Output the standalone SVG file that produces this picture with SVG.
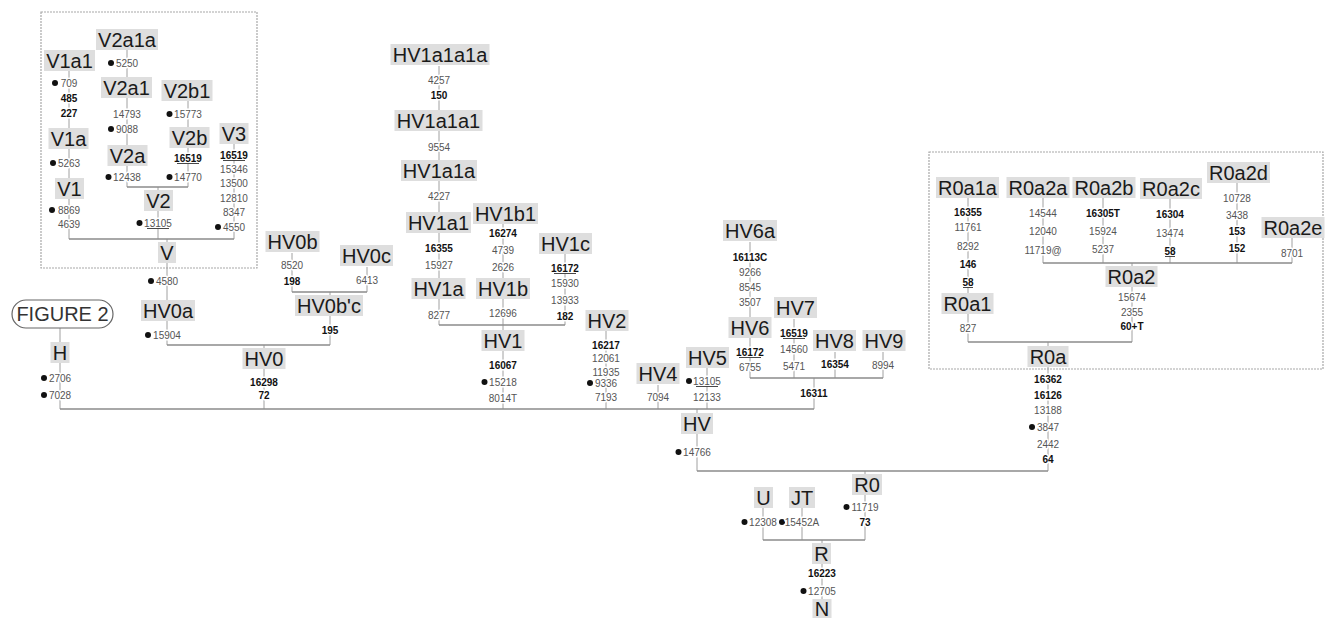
<svg xmlns="http://www.w3.org/2000/svg" width="1327" height="618" viewBox="0 0 1327 618">
<style>
.lb{fill:#dedede}
.lt{font-family:"Liberation Sans",Arial,sans-serif;font-size:20px;fill:#1a1a1a;text-anchor:middle}
.n{font-family:"Liberation Sans Narrow","Liberation Sans",Arial,sans-serif;font-size:10px;fill:#555;text-anchor:middle;stroke:#fff;stroke-width:3;paint-order:stroke;stroke-linejoin:round}
.b{font-weight:bold;fill:#111}
.d{fill:#111}
.ul{stroke:#333;stroke-width:0.9}
.v{stroke:#a0a0a0;stroke-width:1;fill:none}
.h{stroke:#8c8c8c;stroke-width:1.3;fill:none}
.box{fill:none;stroke:#a8a8a8;stroke-width:1.2;stroke-dasharray:2 1}
</style>
<rect width="1327" height="618" fill="#fff"/>
<rect class="box" x="41" y="12" width="216" height="256"/>
<rect class="box" x="929" y="152" width="394" height="217"/>
<g id="connectors">
<path class="v" d="M127 48V187M188 100V187M158 187V239M69 70V239M234 143V239M167 239V345M292 253V292M367 267V292M330 292V345M264 345V409M60 328V409M439 66V325M503 223V409M565 254V325M606 331V409M658 385V409M707 367V409M750 242V378M794 319V378M835 352V378M883 352V378M814 378V409M697 409V471M865 471V540M763 508V540M802 508V540M822 540V618M968 198V342M1043 198V263M1103 198V263M1170 198V263M1237 183V263M1292 238V263M1132 263V342M1048 342V471"/>
<path class="h" d="M127 187H188M69 239H234M292 292H367M167 345H330M60 409H814M439 325H565M750 378H883M697 471H1048M763 540H865M1043 263H1292M968 342H1132"/>
</g>
<g id="FIGURE2"><rect x="12" y="300" width="101" height="28" rx="14" fill="#fff" stroke="#666" stroke-width="1.2"/><text x="62.5" y="321" font-family="'Liberation Sans',Arial,sans-serif" font-size="20" fill="#333" text-anchor="middle">FIGURE 2</text></g>

<g id="V2a1a"><rect class="lb" x="96" y="29" width="62" height="21"/><text class="lt" x="127" y="46.5">V2a1a</text><circle class="d" cx="111" cy="63" r="3"/><text class="n" x="127" y="66.5">5250</text></g>
<g id="V2a1"><rect class="lb" x="101" y="77" width="51" height="21"/><text class="lt" x="126.5" y="94.5">V2a1</text><text class="n" x="127" y="117.5">14793</text><circle class="d" cx="111" cy="129" r="3"/><text class="n" x="127" y="132.5">9088</text></g>
<g id="V2a"><rect class="lb" x="107.5" y="145" width="40" height="21"/><text class="lt" x="127.5" y="162.5">V2a</text><circle class="d" cx="108.5" cy="177" r="3"/><text class="n" x="127" y="180.5">12438</text></g>
<g id="V2b1"><rect class="lb" x="161.5" y="80" width="51" height="21"/><text class="lt" x="187" y="97.5">V2b1</text><circle class="d" cx="169.5" cy="114" r="3"/><text class="n" x="188" y="117.5">15773</text></g>
<g id="V2b"><rect class="lb" x="169.5" y="127" width="40" height="21"/><text class="lt" x="189.5" y="144.5">V2b</text><text class="n b" x="188" y="161.5">16519</text><line class="ul" x1="177" y1="163.5" x2="199" y2="163.5"/><circle class="d" cx="169.5" cy="177" r="3"/><text class="n" x="188" y="180.5">14770</text></g>
<g id="V2"><rect class="lb" x="144" y="190" width="29" height="21"/><text class="lt" x="158.5" y="207.5">V2</text><circle class="d" cx="139.5" cy="223" r="3"/><text class="n" x="158" y="226.5">13105</text><line class="ul" x1="147" y1="228.5" x2="169" y2="228.5"/></g>
<g id="V1a1"><rect class="lb" x="44" y="50" width="51" height="21"/><text class="lt" x="69.5" y="67.5">V1a1</text><circle class="d" cx="55" cy="83" r="3"/><text class="n" x="69" y="86.5">709</text><text class="n b" x="69" y="101.5">485</text><text class="n b" x="69" y="116.5">227</text></g>
<g id="V1a"><rect class="lb" x="48.5" y="128" width="40" height="21"/><text class="lt" x="68.5" y="145.5">V1a</text><circle class="d" cx="53" cy="163" r="3"/><text class="n" x="69" y="166.5">5263</text></g>
<g id="V1"><rect class="lb" x="55" y="178" width="29" height="21"/><text class="lt" x="69.5" y="195.5">V1</text><circle class="d" cx="52" cy="210" r="3"/><text class="n" x="69" y="213.5">8869</text><text class="n" x="69" y="227.5">4639</text></g>
<g id="V3"><rect class="lb" x="219.5" y="123" width="29" height="21"/><text class="lt" x="234" y="140.5">V3</text><text class="n b" x="234" y="158.5">16519</text><line class="ul" x1="223" y1="160.5" x2="245" y2="160.5"/><text class="n" x="234" y="172.5">15346</text><text class="n" x="234" y="186.5">13500</text><text class="n" x="234" y="201.5">12810</text><text class="n" x="234" y="215.5">8347</text><circle class="d" cx="218" cy="227" r="3"/><text class="n" x="234" y="230.5">4550</text></g>
<g id="V"><rect class="lb" x="158" y="242" width="18" height="21"/><text class="lt" x="167" y="259.5">V</text><circle class="d" cx="151" cy="281" r="3"/><text class="n" x="167" y="284.5">4580</text></g>
<g id="HV0a"><rect class="lb" x="141" y="300" width="54" height="21"/><text class="lt" x="168" y="317.5">HV0a</text><circle class="d" cx="148" cy="335" r="3"/><text class="n" x="167" y="338.5">15904</text></g>
<g id="HV0b"><rect class="lb" x="265.5" y="231" width="54" height="21"/><text class="lt" x="292.5" y="248.5">HV0b</text><text class="n" x="292" y="268.5">8520</text><text class="n b" x="292" y="284.5">198</text></g>
<g id="HV0c"><rect class="lb" x="340" y="245" width="53" height="21"/><text class="lt" x="366.5" y="262.5">HV0c</text><text class="n" x="367" y="283.5">6413</text></g>
<g id="HV0b_c"><rect class="lb" x="295" y="295" width="68" height="21"/><text class="lt" x="329" y="312.5">HV0b'c</text><text class="n b" x="330" y="333.5">195</text></g>
<g id="HV0"><rect class="lb" x="242.5" y="348" width="43" height="21"/><text class="lt" x="264" y="365.5">HV0</text><text class="n b" x="264" y="385.5">16298</text><text class="n b" x="264" y="398.5">72</text></g>
<g id="H"><rect class="lb" x="50.5" y="342" width="19" height="21"/><text class="lt" x="60" y="359.5">H</text><circle class="d" cx="44" cy="378" r="3"/><text class="n" x="60" y="381.5">2706</text><circle class="d" cx="44" cy="395" r="3"/><text class="n" x="60" y="398.5">7028</text></g>

<g id="HV1a1a1a"><rect class="lb" x="390.5" y="44" width="99" height="21"/><text class="lt" x="440" y="61.5">HV1a1a1a</text><text class="n" x="439" y="83.5">4257</text><text class="n b" x="439" y="98.5">150</text></g>
<g id="HV1a1a1"><rect class="lb" x="394.5" y="110" width="88" height="21"/><text class="lt" x="438.5" y="127.5">HV1a1a1</text><text class="n" x="439" y="150.5">9554</text></g>
<g id="HV1a1a"><rect class="lb" x="401" y="160" width="76" height="21"/><text class="lt" x="439" y="177.5">HV1a1a</text><text class="n" x="439" y="199.5">4227</text></g>
<g id="HV1a1"><rect class="lb" x="406" y="212" width="65" height="21"/><text class="lt" x="438.5" y="229.5">HV1a1</text><text class="n b" x="439" y="251.5">16355</text><text class="n" x="439" y="268.5">15927</text></g>
<g id="HV1a"><rect class="lb" x="411.5" y="278" width="54" height="21"/><text class="lt" x="438.5" y="295.5">HV1a</text><text class="n" x="439" y="318.5">8277</text></g>
<g id="HV1b1"><rect class="lb" x="473" y="203" width="65" height="21"/><text class="lt" x="505.5" y="220.5">HV1b1</text><text class="n b" x="503" y="236.5">16274</text><text class="n" x="503" y="253.5">4739</text><text class="n" x="503" y="270.5">2626</text></g>
<g id="HV1b"><rect class="lb" x="476" y="278" width="54" height="21"/><text class="lt" x="503" y="295.5">HV1b</text><text class="n" x="503" y="316.5">12696</text></g>
<g id="HV1c"><rect class="lb" x="539" y="233" width="53" height="21"/><text class="lt" x="565.5" y="250.5">HV1c</text><text class="n b" x="565" y="271.5">16172</text><line class="ul" x1="554" y1="273.5" x2="576" y2="273.5"/><text class="n" x="565" y="286.5">15930</text><text class="n" x="565" y="303.5">13933</text><text class="n b" x="565" y="319.5">182</text></g>
<g id="HV1"><rect class="lb" x="481.5" y="330" width="43" height="21"/><text class="lt" x="503" y="347.5">HV1</text><text class="n b" x="503" y="368.5">16067</text><circle class="d" cx="484.5" cy="382" r="3"/><text class="n" x="503" y="385.5">15218</text><text class="n" x="503" y="401.5">8014T</text></g>
<g id="HV2"><rect class="lb" x="585.5" y="310" width="43" height="21"/><text class="lt" x="607" y="327.5">HV2</text><text class="n b" x="606" y="348.5">16217</text><text class="n" x="606" y="361.5">12061</text><text class="n" x="606" y="375.5">11935</text><circle class="d" cx="590" cy="383" r="3"/><text class="n" x="606" y="386.5">9336</text><text class="n" x="606" y="400.5">7193</text></g>
<g id="HV4"><rect class="lb" x="636.5" y="363" width="43" height="21"/><text class="lt" x="658" y="380.5">HV4</text><text class="n" x="658" y="400.5">7094</text></g>
<g id="HV5"><rect class="lb" x="686" y="347" width="43" height="21"/><text class="lt" x="707.5" y="364.5">HV5</text><circle class="d" cx="689" cy="381" r="3"/><text class="n" x="707" y="384.5">13105</text><line class="ul" x1="696" y1="386.5" x2="718" y2="386.5"/><text class="n" x="707" y="400.5">12133</text></g>
<g id="HV6a"><rect class="lb" x="723" y="220" width="54" height="21"/><text class="lt" x="750" y="237.5">HV6a</text><text class="n b" x="750" y="260.5">16113C</text><text class="n" x="750" y="275.5">9266</text><text class="n" x="750" y="290.5">8545</text><text class="n" x="750" y="305.5">3507</text></g>
<g id="HV6"><rect class="lb" x="728.5" y="317" width="43" height="21"/><text class="lt" x="750" y="334.5">HV6</text><text class="n b" x="750" y="355.5">16172</text><line class="ul" x1="739" y1="357.5" x2="761" y2="357.5"/><text class="n" x="750" y="370.5">6755</text></g>
<g id="HV7"><rect class="lb" x="774" y="297" width="43" height="21"/><text class="lt" x="795.5" y="314.5">HV7</text><text class="n b" x="794" y="336.5">16519</text><line class="ul" x1="783" y1="338.5" x2="805" y2="338.5"/><text class="n" x="794" y="352.5">14560</text><text class="n" x="794" y="369.5">5471</text></g>
<g id="HV8"><rect class="lb" x="813" y="330" width="43" height="21"/><text class="lt" x="834.5" y="347.5">HV8</text><text class="n b" x="835" y="367.5">16354</text></g>
<g id="HV9"><rect class="lb" x="862.5" y="330" width="43" height="21"/><text class="lt" x="884" y="347.5">HV9</text><text class="n" x="883" y="368.5">8994</text></g>
<g id="HV_join"><text class="n b" x="814" y="396.5">16311</text></g>
<g id="HV"><rect class="lb" x="681" y="413" width="32" height="21"/><text class="lt" x="697" y="430.5">HV</text><circle class="d" cx="678.5" cy="452" r="3"/><text class="n" x="697" y="455.5">14766</text></g>
<g id="R0"><rect class="lb" x="852" y="474" width="30" height="21"/><text class="lt" x="867" y="491.5">R0</text><circle class="d" cx="846.5" cy="507" r="3"/><text class="n" x="865" y="510.5">11719</text><text class="n b" x="865" y="525.5">73</text></g>
<g id="U"><rect class="lb" x="754" y="487" width="19" height="21"/><text class="lt" x="763.5" y="504.5">U</text><circle class="d" cx="744.5" cy="522" r="3"/><text class="n" x="763" y="525.5">12308</text></g>
<g id="JT"><rect class="lb" x="789" y="487" width="26" height="21"/><text class="lt" x="802" y="504.5">JT</text><circle class="d" cx="782" cy="522" r="3"/><text class="n" x="802" y="525.5">15452A</text></g>
<g id="R"><rect class="lb" x="812" y="543" width="19" height="21"/><text class="lt" x="821.5" y="560.5">R</text><text class="n b" x="822" y="576.5">16223</text><circle class="d" cx="803.5" cy="591" r="3"/><text class="n" x="822" y="594.5">12705</text></g>
<g id="N"><rect class="lb" x="812.5" y="599" width="19" height="19"/><text class="lt" x="822" y="615.5">N</text></g>

<g id="R0a1a"><rect class="lb" x="936" y="177" width="63" height="21"/><text class="lt" x="967.5" y="194.5">R0a1a</text><text class="n b" x="968" y="215.5">16355</text><text class="n" x="968" y="230.5">11761</text><text class="n" x="968" y="249.5">8292</text><text class="n b" x="968" y="267.5">146</text><text class="n b" x="968" y="285.5">58</text><line class="ul" x1="963" y1="287.5" x2="973" y2="287.5"/></g>
<g id="R0a1"><rect class="lb" x="941.5" y="293" width="52" height="21"/><text class="lt" x="967.5" y="310.5">R0a1</text><text class="n" x="968" y="331.5">827</text></g>
<g id="R0a2a"><rect class="lb" x="1006.5" y="177" width="63" height="21"/><text class="lt" x="1038" y="194.5">R0a2a</text><text class="n" x="1043" y="216.5">14544</text><text class="n" x="1043" y="234.5">12040</text><text class="n" x="1043" y="253.5">11719@</text></g>
<g id="R0a2b"><rect class="lb" x="1072.5" y="177" width="63" height="21"/><text class="lt" x="1104" y="194.5">R0a2b</text><text class="n b" x="1103" y="216.5">16305T</text><text class="n" x="1103" y="234.5">15924</text><text class="n" x="1103" y="252.5">5237</text></g>
<g id="R0a2c"><rect class="lb" x="1140" y="178" width="62" height="21"/><text class="lt" x="1171" y="195.5">R0a2c</text><text class="n b" x="1170" y="217.5">16304</text><text class="n" x="1170" y="236.5">13474</text><text class="n b" x="1170" y="254.5">58</text><line class="ul" x1="1165" y1="256.5" x2="1175" y2="256.5"/></g>
<g id="R0a2d"><rect class="lb" x="1207" y="162" width="63" height="21"/><text class="lt" x="1238.5" y="179.5">R0a2d</text><text class="n" x="1237" y="201.5">10728</text><text class="n" x="1237" y="218.5">3438</text><text class="n b" x="1237" y="234.5">153</text><text class="n b" x="1237" y="251.5">152</text></g>
<g id="R0a2e"><rect class="lb" x="1261.5" y="217" width="63" height="21"/><text class="lt" x="1293" y="234.5">R0a2e</text><text class="n" x="1292" y="256.5">8701</text></g>
<g id="R0a2"><rect class="lb" x="1105.5" y="266" width="52" height="21"/><text class="lt" x="1131.5" y="283.5">R0a2</text><text class="n" x="1132" y="300.5">15674</text><text class="n" x="1132" y="315.5">2355</text><text class="n b" x="1132" y="329.5">60+T</text></g>
<g id="R0a"><rect class="lb" x="1027.5" y="346" width="41" height="21"/><text class="lt" x="1048" y="363.5">R0a</text><text class="n b" x="1048" y="382.5">16362</text><text class="n b" x="1048" y="398.5">16126</text><text class="n" x="1048" y="413.5">13188</text><circle class="d" cx="1032" cy="427" r="3"/><text class="n" x="1048" y="430.5">3847</text><text class="n" x="1048" y="447.5">2442</text><text class="n b" x="1048" y="462.5">64</text></g>
</svg>
